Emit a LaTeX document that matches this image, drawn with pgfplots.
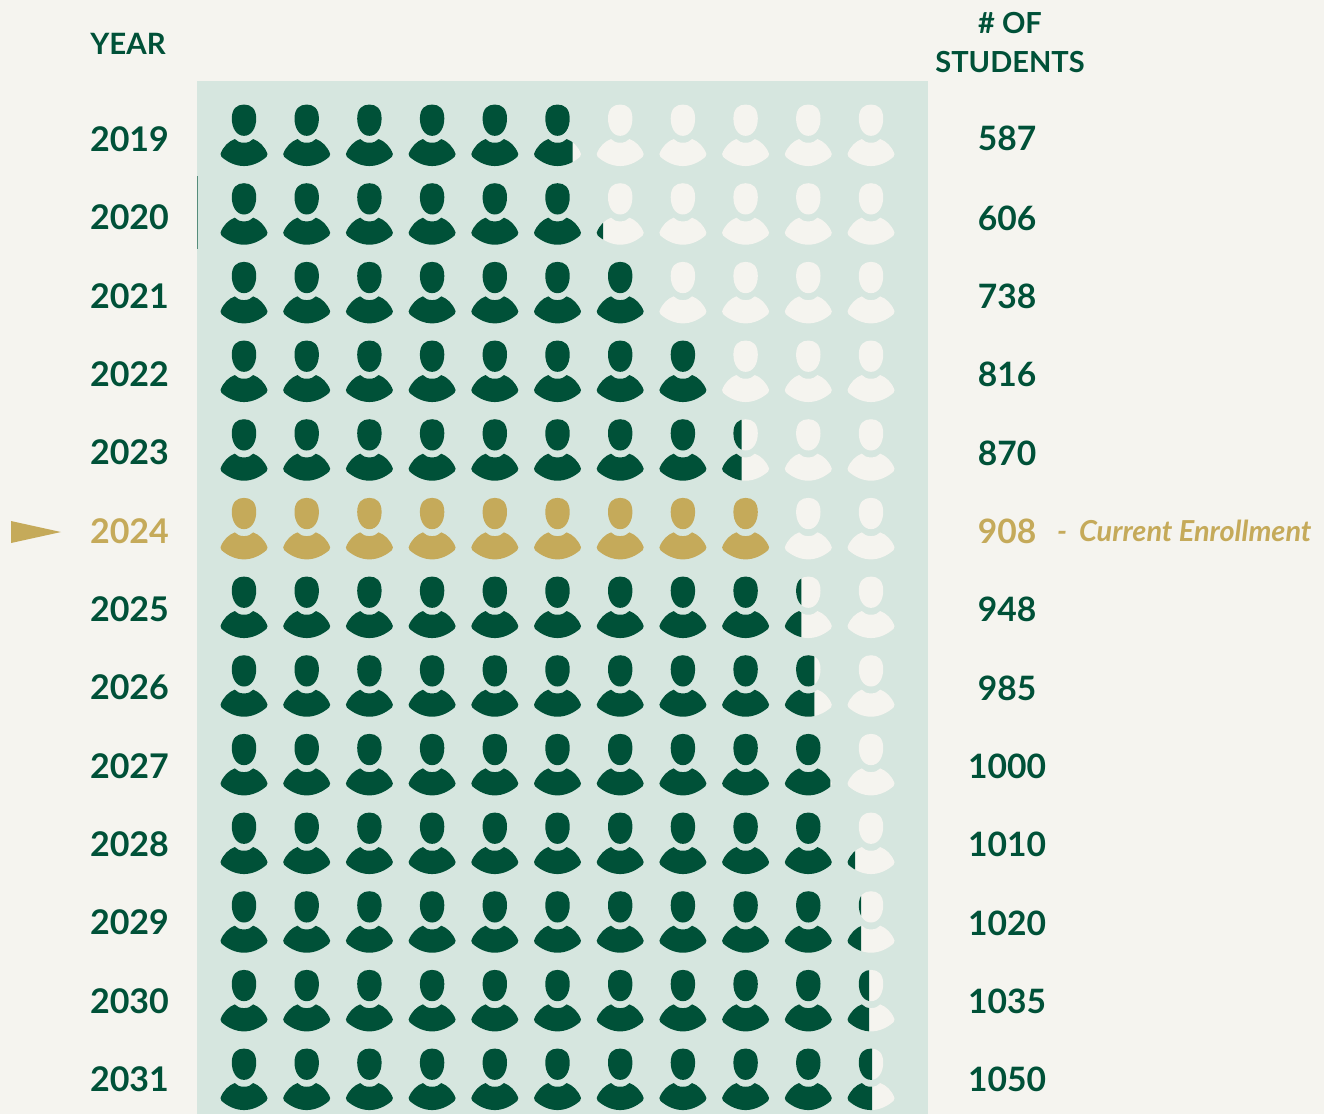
\documentclass[border=0pt]{standalone}
\usepackage{fontspec}
\setmainfont{Lato}
\usepackage{pgfplots}
\pgfplotsset{compat=1.18}
\definecolor{bgc}{HTML}{F5F4EF}
\definecolor{panelc}{HTML}{D6E6DF}
\definecolor{darkc}{HTML}{005138}
\definecolor{goldc}{HTML}{C5AA5A}
\newcommand\personpath{%
  % head
  \pgfpathmoveto{\pgfqpoint{0pt}{31pt}}%
  \pgfpathcurveto{\pgfqpoint{7pt}{31pt}}{\pgfqpoint{12.2pt}{27pt}}{\pgfqpoint{12.2pt}{17pt}}%
  \pgfpathcurveto{\pgfqpoint{12.2pt}{7.5pt}}{\pgfqpoint{7.5pt}{-0.3pt}}{\pgfqpoint{0pt}{-0.3pt}}%
  \pgfpathcurveto{\pgfqpoint{-7.5pt}{-0.3pt}}{\pgfqpoint{-12.2pt}{7.5pt}}{\pgfqpoint{-12.2pt}{17pt}}%
  \pgfpathcurveto{\pgfqpoint{-12.2pt}{27pt}}{\pgfqpoint{-7pt}{31pt}}{\pgfqpoint{0pt}{31pt}}%
  \pgfpathclose
  % body
  \pgfpathmoveto{\pgfqpoint{0pt}{-7.2pt}}%
  \pgfpathcurveto{\pgfqpoint{4pt}{-7.2pt}}{\pgfqpoint{7pt}{-6pt}}{\pgfqpoint{9.2pt}{-3.5pt}}%
  \pgfpathcurveto{\pgfqpoint{15pt}{-5.5pt}}{\pgfqpoint{21pt}{-11pt}}{\pgfqpoint{23.5pt}{-18.5pt}}%
  \pgfpathcurveto{\pgfqpoint{23.8pt}{-19.5pt}}{\pgfqpoint{23.5pt}{-20.5pt}}{\pgfqpoint{22.5pt}{-21.3pt}}%
  \pgfpathcurveto{\pgfqpoint{16pt}{-27pt}}{\pgfqpoint{8pt}{-30.5pt}}{\pgfqpoint{0pt}{-30.5pt}}%
  \pgfpathcurveto{\pgfqpoint{-8pt}{-30.5pt}}{\pgfqpoint{-16pt}{-27pt}}{\pgfqpoint{-22.5pt}{-21.3pt}}%
  \pgfpathcurveto{\pgfqpoint{-23.5pt}{-20.5pt}}{\pgfqpoint{-23.8pt}{-19.5pt}}{\pgfqpoint{-23.5pt}{-18.5pt}}%
  \pgfpathcurveto{\pgfqpoint{-21pt}{-11pt}}{\pgfqpoint{-15pt}{-5.5pt}}{\pgfqpoint{-9.2pt}{-3.5pt}}%
  \pgfpathcurveto{\pgfqpoint{-7pt}{-6pt}}{\pgfqpoint{-4pt}{-7.2pt}}{\pgfqpoint{0pt}{-7.2pt}}%
  \pgfpathclose}
\pgfdeclareplotmark{person}{\pgftransformscale{0.5}\personpath\pgfusepathqfill}
% a person filled up to a given number of pixels right of its centre
\newcommand\defcut[1]{\pgfdeclareplotmark{cut#1}{%
  \pgftransformscale{0.5}%
  \pgfpathrectanglecorners{\pgfqpoint{-40pt}{-40pt}}{\pgfqpoint{#1pt}{40pt}}%
  \pgfusepath{clip}\personpath\pgfusepathqfill}}
\defcut{15}\defcut{-17}\defcut{-4}\defcut{-7}\defcut{6}\defcut{22}\defcut{-16}\defcut{-10}\defcut{-2}\defcut{1}
\pgfdeclareplotmark{pointer}{\pgftransformscale{0.5}%
  \pgfpathmoveto{\pgfqpoint{0pt}{11pt}}\pgfpathlineto{\pgfqpoint{50pt}{0pt}}%
  \pgfpathlineto{\pgfqpoint{0pt}{-11pt}}\pgfpathclose\pgfusepathqfill}
\begin{document}
\begin{tikzpicture}
\fill[bgc] (0pt,0pt) rectangle (662pt,-557pt);
\path[use as bounding box] (0pt,0pt) rectangle (662pt,-557pt);
\begin{axis}[
  at={(98.5pt,-557pt)}, anchor=south west,
  scale only axis, width=365.5pt, height=516.5pt,
  xmin=0.2504, xmax=11.909, ymin=2018.307, ymax=2031.438,
  y dir=reverse, clip=false,
  axis background/.style={fill=panelc},
  axis line style={draw=none}, tick style={draw=none},
  xtick=\empty,
  ytick={2019.044,2020.041,2021.037,2022.033,2023.029,2024.025,2025.022,2026.018,2027.014,2028.010,2029.006,2030.003,2030.999},
  yticklabels={2019,2020,2021,2022,2023,\textcolor{goldc}{2024},2025,2026,2027,2028,2029,2030,2031},
  yticklabel style={font=\fontsize{17pt}{18pt}\selectfont\bfseries, text=darkc, anchor=east, xshift=-10.5pt},
  nodes near coords style={font=\fontsize{16.8pt}{18pt}\selectfont\bfseries, anchor=center, inner sep=0pt},
]
% sliver on the panel edge
\addplot[draw=darkc!60!panelc, line width=0.4pt, mark=none] coordinates {(0.2504,2019.515) (0.2504,2020.443)};
% empty places
\addplot[only marks, mark=person, mark options={fill=bgc, draw=none}] coordinates {
 (6,2019)(7,2019)(8,2019)(9,2019)(10,2019)(11,2019)
 (7,2020)(8,2020)(9,2020)(10,2020)(11,2020)
 (8,2021)(9,2021)(10,2021)(11,2021)
 (9,2022)(10,2022)(11,2022)
 (9,2023)(10,2023)(11,2023)
 (10,2024)(11,2024)
 (10,2025)(11,2025)
 (10,2026)(11,2026)
 (10,2027)(11,2027)
 (11,2028)(11,2029)(11,2030)(11,2031)};
% whole persons
\addplot[only marks, mark=person, mark options={fill=darkc, draw=none}] coordinates {
 (1,2019)(2,2019)(3,2019)(4,2019)(5,2019)
 (1,2020)(2,2020)(3,2020)(4,2020)(5,2020)(6,2020)
 (1,2021)(2,2021)(3,2021)(4,2021)(5,2021)(6,2021)(7,2021)
 (1,2022)(2,2022)(3,2022)(4,2022)(5,2022)(6,2022)(7,2022)(8,2022)
 (1,2023)(2,2023)(3,2023)(4,2023)(5,2023)(6,2023)(7,2023)(8,2023)
 (1,2025)(2,2025)(3,2025)(4,2025)(5,2025)(6,2025)(7,2025)(8,2025)(9,2025)
 (1,2026)(2,2026)(3,2026)(4,2026)(5,2026)(6,2026)(7,2026)(8,2026)(9,2026)
 (1,2027)(2,2027)(3,2027)(4,2027)(5,2027)(6,2027)(7,2027)(8,2027)(9,2027)
 (1,2028)(2,2028)(3,2028)(4,2028)(5,2028)(6,2028)(7,2028)(8,2028)(9,2028)(10,2028)
 (1,2029)(2,2029)(3,2029)(4,2029)(5,2029)(6,2029)(7,2029)(8,2029)(9,2029)(10,2029)
 (1,2030)(2,2030)(3,2030)(4,2030)(5,2030)(6,2030)(7,2030)(8,2030)(9,2030)(10,2030)
 (1,2031)(2,2031)(3,2031)(4,2031)(5,2031)(6,2031)(7,2031)(8,2031)(9,2031)(10,2031)};
% current year
\addplot[only marks, mark=person, mark options={fill=goldc, draw=none}] coordinates {
 (1,2024)(2,2024)(3,2024)(4,2024)(5,2024)(6,2024)(7,2024)(8,2024)(9,2024)};
% part-filled persons
\addplot[only marks, mark=cut15, mark options={fill=darkc, draw=none}] coordinates {(6,2019)};
\addplot[only marks, mark=cut-17, mark options={fill=darkc, draw=none}] coordinates {(7,2020)};
\addplot[only marks, mark=cut-4, mark options={fill=darkc, draw=none}] coordinates {(9,2023)};
\addplot[only marks, mark=cut-7, mark options={fill=darkc, draw=none}] coordinates {(10,2025)};
\addplot[only marks, mark=cut6, mark options={fill=darkc, draw=none}] coordinates {(10,2026)};
\addplot[only marks, mark=cut22, mark options={fill=darkc, draw=none}] coordinates {(10,2027)};
\addplot[only marks, mark=cut-16, mark options={fill=darkc, draw=none}] coordinates {(11,2028)};
\addplot[only marks, mark=cut-10, mark options={fill=darkc, draw=none}] coordinates {(11,2029)};
\addplot[only marks, mark=cut-2, mark options={fill=darkc, draw=none}] coordinates {(11,2030)};
\addplot[only marks, mark=cut1, mark options={fill=darkc, draw=none}] coordinates {(11,2031)};
% pointer
\addplot[only marks, mark=pointer, mark options={fill=goldc, draw=none}] coordinates {(-2.716,2024.040)};
% numbers of students
\addplot[only marks, mark=none, point meta=explicit symbolic, nodes near coords, nodes near coords align={center}, every node near coord/.append style={text=darkc}]
 table[x=x, y=y, meta=n, row sep=\\] {
 x y n\\
 13.17 2019.042 587\\
 13.17 2020.059 606\\
 13.17 2021.050 738\\
 13.17 2022.042 816\\
 13.17 2023.046 870\\
 13.17 2025.029 948\\
 13.17 2026.033 985\\
 13.17 2027.024 1000\\
 13.17 2028.016 1010\\
 13.17 2029.020 1020\\
 13.17 2030.012 1035\\
 13.17 2031.003 1050\\
 };
\addplot[only marks, mark=none, point meta=explicit symbolic, nodes near coords, nodes near coords align={center}, every node near coord/.append style={text=goldc}]
 table[x=x, y=y, meta=n, row sep=\\] {
 x y n\\
 13.17 2024.037 908\\
 };
\end{axis}
\node[anchor=center, text=darkc, font=\fontsize{14.7pt}{16pt}\selectfont\bfseries] at (64pt,-21.9pt) {YEAR};
\node[anchor=center, text=darkc, font=\fontsize{14.5pt}{16pt}\selectfont\bfseries] at (505pt,-11.5pt) {\# OF};
\node[anchor=center, text=darkc, font=\fontsize{14.5pt}{16pt}\selectfont\bfseries] at (505pt,-31pt) {STUDENTS};
\node[anchor=base west, inner sep=0pt, text=goldc, font=\fontsize{14.45pt}{16pt}\selectfont\bfseries\itshape] at (528.3pt,-270.5pt) {-};
\node[anchor=base west, inner sep=0pt, text=goldc, font=\fontsize{14.45pt}{16pt}\selectfont\bfseries\itshape] at (539.3pt,-270.5pt) {Current Enrollment};
\end{tikzpicture}
\end{document}
